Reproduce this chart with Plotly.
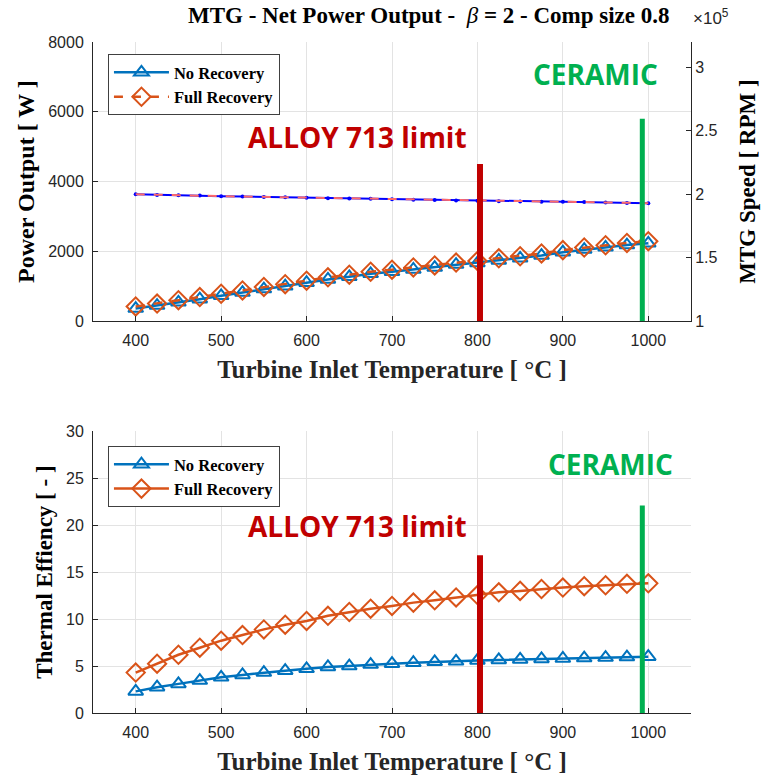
import plotly.graph_objects as go

# ---------------- data ----------------
tit = [400, 425, 450, 475, 500, 525, 550, 575, 600, 625, 650, 675, 700,
       725, 750, 775, 800, 825, 850, 875, 900, 925, 950, 975, 1000]

power_full = [420, 505, 600, 690, 785, 880, 980, 1060, 1160, 1255, 1330, 1415, 1475,
              1540, 1595, 1680, 1725, 1800, 1860, 1940, 2035, 2110, 2175, 2240, 2290]
power_none = [360, 445, 540, 630, 725, 820, 920, 1000, 1100, 1195, 1270, 1355, 1415,
              1480, 1535, 1620, 1665, 1740, 1800, 1880, 1975, 2050, 2115, 2180, 2230]

speed_none = [200000, 199500, 199200, 199000, 198500, 198200, 197900, 197700, 197200,
              196900, 196600, 196400, 196100, 195700, 195400, 195100, 194800, 194500,
              194300, 194100, 194000, 193800, 193500, 193200, 193000]
speed_full = [200000, 199500, 199200, 199000, 198500, 198200, 197900, 197700, 197200,
              196900, 196600, 196400, 196100, 195700, 195400, 195100, 194800, 194500,
              194300, 194100, 194000, 193800, 193500, 193200, 193000]

eff_full = [4.3, 5.25, 6.2, 6.95, 7.7, 8.3, 8.9, 9.4, 9.8, 10.35, 10.75, 11.1, 11.4,
            11.75, 12.0, 12.3, 12.55, 12.85, 13.0, 13.2, 13.35, 13.5, 13.6, 13.75, 13.8]
eff_none = [2.3, 2.75, 3.1, 3.45, 3.8, 4.05, 4.3, 4.5, 4.7, 4.9, 5.0, 5.15, 5.25,
            5.35, 5.45, 5.5, 5.6, 5.65, 5.7, 5.75, 5.8, 5.85, 5.9, 5.95, 6.0]

alloy_limit_x = 803
ceramic_x = 993
alloy_top_power, ceramic_top_power = 4500, 5800
alloy_top_eff, ceramic_top_eff = 16.8, 22.1

speed_ticks = [100000, 150000, 200000, 250000, 300000]
speed_ticktext = ["1", "1.5", "2", "2.5", "3"]

# ---------------- style ----------------
BLUE = "#0072BD"
ORANGE = "#D95319"
INK = "#262626"
GRID = "#E3E3E3"
SERIF = "Liberation Serif, Times New Roman, serif"
SANS = "Liberation Sans, Arial, sans-serif"
CALI = "Open Sans, sans-serif"

fig = go.Figure()

# --- top: power ---
fig.add_trace(go.Scatter(x=tit, y=power_none, name="<b>No Recovery</b>", mode="lines+markers",
                         line=dict(color=BLUE, width=2.5),
                         marker=dict(symbol="triangle-up-open", size=13, line=dict(width=2, color=BLUE)),
                         xaxis="x", yaxis="y", legend="legend"))
fig.add_trace(go.Scatter(x=tit, y=power_full, name="<b>Full Recovery</b>", mode="lines+markers",
                         line=dict(color=ORANGE, width=2.5, dash="dash"),
                         marker=dict(symbol="diamond-open", size=14, line=dict(width=2, color=ORANGE)),
                         xaxis="x", yaxis="y", legend="legend"))
# --- top: speed ---
fig.add_trace(go.Scatter(x=tit, y=speed_none, name="Speed No Recovery", mode="lines+markers",
                         line=dict(color="#0000FF", width=2),
                         marker=dict(symbol="circle", size=4, color="#0000FF"),
                         xaxis="x", yaxis="y2", showlegend=False))
fig.add_trace(go.Scatter(x=tit, y=speed_full, name="Speed Full Recovery", mode="lines",
                         line=dict(color="#FF6A6A", width=2, dash="dash"),
                         xaxis="x", yaxis="y2", showlegend=False))

# --- bottom: efficiency ---
fig.add_trace(go.Scatter(x=tit, y=eff_none, name="<b>No Recovery</b>", mode="lines+markers",
                         line=dict(color=BLUE, width=2.5),
                         marker=dict(symbol="triangle-up-open", size=13, line=dict(width=2, color=BLUE)),
                         xaxis="x2", yaxis="y3", legend="legend2"))
fig.add_trace(go.Scatter(x=tit, y=eff_full, name="<b>Full Recovery</b>", mode="lines+markers",
                         line=dict(color=ORANGE, width=2.5),
                         marker=dict(symbol="diamond-open", size=14, line=dict(width=2, color=ORANGE)),
                         xaxis="x2", yaxis="y3", legend="legend2"))

# vertical limit lines
for xr, yr, top_a, top_c in [("x", "y", alloy_top_power, ceramic_top_power),
                              ("x2", "y3", alloy_top_eff, ceramic_top_eff)]:
    fig.add_shape(type="line", xref=xr, yref=yr, x0=alloy_limit_x, x1=alloy_limit_x,
                  y0=0, y1=top_a, line=dict(color="#C00000", width=6))
    fig.add_shape(type="line", xref=xr, yref=yr, x0=ceramic_x, x1=ceramic_x,
                  y0=0, y1=top_c, line=dict(color="#00B050", width=5))

ann_font_r = dict(family=CALI, size=28, color="#C00000")
ann_font_g = dict(family=CALI, size=28, color="#00B050")
fig.add_annotation(x=660, y=5290, xref="x", yref="y", text="<b>ALLOY 713 limit</b>",
                   showarrow=False, font=ann_font_r)
fig.add_annotation(x=938, y=7090, xref="x", yref="y", text="<b>CERAMIC</b>",
                   showarrow=False, font=ann_font_g)
fig.add_annotation(x=660, y=19.9, xref="x2", yref="y3", text="<b>ALLOY 713 limit</b>",
                   showarrow=False, font=ann_font_r)
fig.add_annotation(x=956, y=26.5, xref="x2", yref="y3", text="<b>CERAMIC</b>",
                   showarrow=False, font=ann_font_g)

# title and exponent
fig.add_annotation(x=0.562, y=1.040, xref="paper", yref="paper", xanchor="center", yanchor="middle",
                   text="<b>MTG - Net Power Output -  </b><i>β</i><b> = 2 - Comp size 0.8</b>",
                   showarrow=False, font=dict(family=SERIF, size=23, color="#000000"))
fig.add_annotation(x=1.0, y=1.038, xref="paper", yref="paper", xanchor="left", yanchor="middle",
                   text="×10<sup>5</sup>", showarrow=False,
                   font=dict(family=SANS, size=17, color=INK))

axis_common = dict(showline=True, linecolor=INK, linewidth=1, ticks="inside", ticklen=5,
                   tickcolor=INK, showgrid=True, gridcolor=GRID, gridwidth=1, zeroline=False,
                   tickfont=dict(family=SANS, size=16, color=INK), mirror=False,
                   automargin=False)
xtitle = dict(text="<b>Turbine Inlet Temperature [ °C ]</b>",
              font=dict(family=SERIF, size=25, color=INK), standoff=12)

fig.update_layout(
    width=764, height=778,
    margin=dict(l=93, r=73, t=42, b=65),
    paper_bgcolor="white", plot_bgcolor="white",
    xaxis=dict(axis_common, domain=[0, 1], anchor="y", range=[350, 1050], dtick=100, tick0=0,
               ticklabelstandoff=5, title=xtitle),
    yaxis=dict(axis_common, domain=[0.584, 1], anchor="x", range=[0, 8000], dtick=2000,
               ticklabelstandoff=5,
               title=dict(text="<b>Power Output [ W ]</b>", font=dict(family=SERIF, size=24, color="#000000"),
                          standoff=6)),
    yaxis2=dict(axis_common, overlaying="y", side="right", anchor="x", range=[100000, 320000],
                tickvals=speed_ticks, ticktext=speed_ticktext, showgrid=False,
                title=dict(text="<b>MTG Speed [ RPM ]</b>", font=dict(family=SERIF, size=23, color="#000000"),
                           standoff=22)),
    xaxis2=dict(axis_common, domain=[0, 1], anchor="y3", range=[350, 1050], dtick=100, tick0=0,
                ticklabelstandoff=5, title=xtitle),
    yaxis3=dict(axis_common, domain=[0, 0.42], anchor="x2", range=[0, 30], dtick=5,
                ticklabelstandoff=5,
                title=dict(text="<b>Thermal Effiency [ - ]</b>", font=dict(family=SERIF, size=23, color="#000000"),
                           standoff=6)),
    legend=dict(x=0.025, y=0.982, xanchor="left", yanchor="top", bgcolor="white",
                bordercolor="#404040", borderwidth=1, itemwidth=55,
                font=dict(family=SERIF, size=16.5, color="#000000"), tracegroupgap=0),
    legend2=dict(x=0.025, y=0.398, xanchor="left", yanchor="top", bgcolor="white",
                 bordercolor="#404040", borderwidth=1, itemwidth=55,
                 font=dict(family=SERIF, size=16.5, color="#000000"), tracegroupgap=0),
    showlegend=True,
)

fig.write_html("out.html")
